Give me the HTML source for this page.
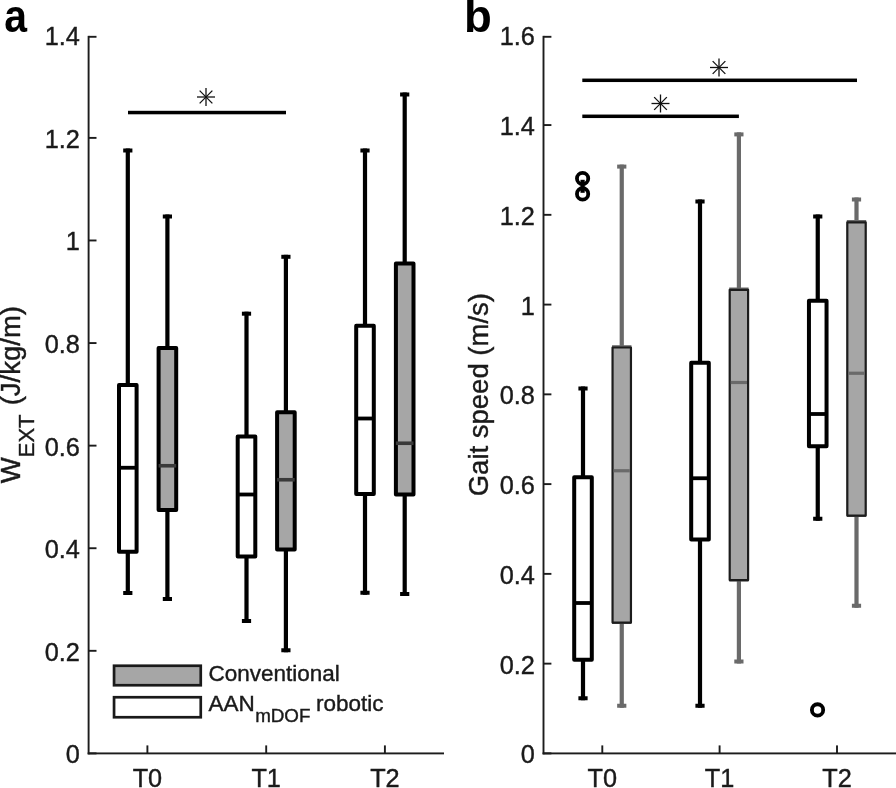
<!DOCTYPE html>
<html><head><meta charset="utf-8"><title>Figure</title>
<style>
html,body{margin:0;padding:0;background:#fff;}
body{width:896px;height:788px;overflow:hidden;}
svg{display:block;font-family:"Liberation Sans", sans-serif;fill:#1a1a1a;}
svg text{fill:#1a1a1a;stroke:#1a1a1a;stroke-width:0.4px;}
svg{will-change:transform;}
</style></head>
<body>
<svg width="896" height="788" viewBox="0 0 896 788">
<rect x="0" y="0" width="896" height="788" fill="#fff"/>
<rect x="87.64999999999999" y="35.85" width="1.9" height="718.5" fill="#1c1c1c"/>
<rect x="87.64999999999999" y="752.4499999999999" width="356.34999999999997" height="1.9" fill="#1c1c1c"/>
<rect x="88.6" y="752.45" width="7.9" height="1.9" fill="#1c1c1c"/>
<text x="79.8" y="763.40" font-size="25.3" text-anchor="end" font-weight="normal" >0</text>
<rect x="88.6" y="649.86" width="7.9" height="1.9" fill="#1c1c1c"/>
<text x="79.8" y="660.81" font-size="25.3" text-anchor="end" font-weight="normal" >0.2</text>
<rect x="88.6" y="547.28" width="7.9" height="1.9" fill="#1c1c1c"/>
<text x="79.8" y="558.23" font-size="25.3" text-anchor="end" font-weight="normal" >0.4</text>
<rect x="88.6" y="444.69" width="7.9" height="1.9" fill="#1c1c1c"/>
<text x="79.8" y="455.64" font-size="25.3" text-anchor="end" font-weight="normal" >0.6</text>
<rect x="88.6" y="342.11" width="7.9" height="1.9" fill="#1c1c1c"/>
<text x="79.8" y="353.06" font-size="25.3" text-anchor="end" font-weight="normal" >0.8</text>
<rect x="88.6" y="239.52" width="7.9" height="1.9" fill="#1c1c1c"/>
<text x="79.8" y="250.47" font-size="25.3" text-anchor="end" font-weight="normal" >1</text>
<rect x="88.6" y="136.94" width="7.9" height="1.9" fill="#1c1c1c"/>
<text x="79.8" y="147.89" font-size="25.3" text-anchor="end" font-weight="normal" >1.2</text>
<rect x="88.6" y="35.85" width="7.9" height="1.9" fill="#1c1c1c"/>
<text x="79.8" y="45.30" font-size="25.3" text-anchor="end" font-weight="normal" >1.4</text>
<rect x="146.45000000000002" y="745.4" width="1.9" height="8" fill="#1c1c1c"/>
<text x="147.4" y="786.5" font-size="25.3" text-anchor="middle" font-weight="normal" >T0</text>
<rect x="265.25" y="745.4" width="1.9" height="8" fill="#1c1c1c"/>
<text x="266.2" y="786.5" font-size="25.3" text-anchor="middle" font-weight="normal" >T1</text>
<rect x="383.95" y="745.4" width="1.9" height="8" fill="#1c1c1c"/>
<text x="384.9" y="786.5" font-size="25.3" text-anchor="middle" font-weight="normal" >T2</text>
<rect x="125.70" y="148.50" width="4.2" height="446.50" fill="#000"/>
<rect x="123.20" y="148.50" width="9.2" height="4.0" fill="#000"/>
<rect x="123.20" y="591.00" width="9.2" height="4.0" fill="#000"/>
<rect x="119.00" y="385.10" width="17.60" height="166.65" fill="#fff" stroke="#000" stroke-width="4.0" stroke-linejoin="round"/>
<rect x="119.00" y="465.85" width="17.60" height="3.8" fill="#000"/>
<rect x="165.30" y="214.50" width="4.2" height="386.50" fill="#000"/>
<rect x="162.80" y="214.50" width="9.2" height="4.0" fill="#000"/>
<rect x="162.80" y="597.00" width="9.2" height="4.0" fill="#000"/>
<rect x="158.60" y="348.00" width="17.60" height="162.00" fill="#a6a6a6" stroke="#000" stroke-width="4.0" stroke-linejoin="round"/>
<rect x="158.60" y="463.95" width="17.60" height="3.6" fill="#3a3a3a"/>
<rect x="244.40" y="311.70" width="4.2" height="311.30" fill="#000"/>
<rect x="241.90" y="311.70" width="9.2" height="4.0" fill="#000"/>
<rect x="241.90" y="619.00" width="9.2" height="4.0" fill="#000"/>
<rect x="237.70" y="436.50" width="17.60" height="120.00" fill="#fff" stroke="#000" stroke-width="4.0" stroke-linejoin="round"/>
<rect x="237.70" y="492.60" width="17.60" height="3.8" fill="#000"/>
<rect x="283.80" y="254.80" width="4.2" height="397.45" fill="#000"/>
<rect x="281.30" y="254.80" width="9.2" height="4.0" fill="#000"/>
<rect x="281.30" y="648.25" width="9.2" height="4.0" fill="#000"/>
<rect x="277.10" y="412.25" width="17.60" height="137.25" fill="#a6a6a6" stroke="#000" stroke-width="4.0" stroke-linejoin="round"/>
<rect x="277.10" y="477.95" width="17.60" height="3.6" fill="#3a3a3a"/>
<rect x="362.90" y="148.50" width="4.2" height="446.25" fill="#000"/>
<rect x="360.40" y="148.50" width="9.2" height="4.0" fill="#000"/>
<rect x="360.40" y="590.75" width="9.2" height="4.0" fill="#000"/>
<rect x="356.20" y="325.75" width="17.60" height="168.25" fill="#fff" stroke="#000" stroke-width="4.0" stroke-linejoin="round"/>
<rect x="356.20" y="416.60" width="17.60" height="3.8" fill="#000"/>
<rect x="402.60" y="92.50" width="4.2" height="503.50" fill="#000"/>
<rect x="400.10" y="92.50" width="9.2" height="4.0" fill="#000"/>
<rect x="400.10" y="592.00" width="9.2" height="4.0" fill="#000"/>
<rect x="395.90" y="263.50" width="17.60" height="231.00" fill="#a6a6a6" stroke="#000" stroke-width="4.0" stroke-linejoin="round"/>
<rect x="395.90" y="441.45" width="17.60" height="3.6" fill="#3a3a3a"/>
<rect x="128" y="110.8" width="158" height="3.5" fill="#000"/>
<line x1="197.00" y1="97.00" x2="215.00" y2="97.00" stroke="#111" stroke-width="1.3"/>
<line x1="199.64" y1="90.64" x2="212.36" y2="103.36" stroke="#111" stroke-width="1.3"/>
<line x1="206.00" y1="88.00" x2="206.00" y2="106.00" stroke="#111" stroke-width="1.3"/>
<line x1="212.36" y1="90.64" x2="199.64" y2="103.36" stroke="#111" stroke-width="1.3"/>
<rect x="114.05" y="665.75" width="86.7" height="19.5" fill="#a6a6a6" stroke="#1a1a1a" stroke-width="2.7"/>
<rect x="114.05" y="697.25" width="86.7" height="20.0" fill="#fff" stroke="#1a1a1a" stroke-width="2.7"/>
<text x="208.5" y="681.2" font-size="22.5" text-anchor="start" font-weight="normal" >Conventional</text>
<text x="208.5" y="711" font-size="22.5">AAN<tspan font-size="18.8" dy="11.2" dx="0.4">mDOF</tspan><tspan dy="-11.2" dx="-0.7"> robotic</tspan></text>
<text transform="translate(20.3,483.2) rotate(-90)" font-size="27.5">W<tspan font-size="22" dy="13.4">EXT</tspan><tspan dy="-13.4" dx="1.5"> (J/kg/m)</tspan></text>
<text transform="translate(4.3,31.8) scale(0.9,1)" font-size="45.5" font-weight="bold" style="fill:#000;stroke:none">a</text>
<text x="464.1" y="31.5" font-size="45.5" font-weight="bold" style="fill:#000;stroke:none">b</text>
<rect x="542.55" y="35.85" width="1.9" height="718.5" fill="#1c1c1c"/>
<rect x="542.55" y="752.4499999999999" width="353.45" height="1.9" fill="#1c1c1c"/>
<rect x="543.5" y="752.45" width="7.9" height="1.9" fill="#1c1c1c"/>
<text x="534.9" y="763.40" font-size="25.3" text-anchor="end" font-weight="normal" >0</text>
<rect x="543.5" y="662.69" width="7.9" height="1.9" fill="#1c1c1c"/>
<text x="534.9" y="673.64" font-size="25.3" text-anchor="end" font-weight="normal" >0.2</text>
<rect x="543.5" y="572.92" width="7.9" height="1.9" fill="#1c1c1c"/>
<text x="534.9" y="583.88" font-size="25.3" text-anchor="end" font-weight="normal" >0.4</text>
<rect x="543.5" y="483.16" width="7.9" height="1.9" fill="#1c1c1c"/>
<text x="534.9" y="494.11" font-size="25.3" text-anchor="end" font-weight="normal" >0.6</text>
<rect x="543.5" y="393.40" width="7.9" height="1.9" fill="#1c1c1c"/>
<text x="534.9" y="404.35" font-size="25.3" text-anchor="end" font-weight="normal" >0.8</text>
<rect x="543.5" y="303.64" width="7.9" height="1.9" fill="#1c1c1c"/>
<text x="534.9" y="314.59" font-size="25.3" text-anchor="end" font-weight="normal" >1</text>
<rect x="543.5" y="213.88" width="7.9" height="1.9" fill="#1c1c1c"/>
<text x="534.9" y="224.83" font-size="25.3" text-anchor="end" font-weight="normal" >1.2</text>
<rect x="543.5" y="124.11" width="7.9" height="1.9" fill="#1c1c1c"/>
<text x="534.9" y="135.06" font-size="25.3" text-anchor="end" font-weight="normal" >1.4</text>
<rect x="543.5" y="35.85" width="7.9" height="1.9" fill="#1c1c1c"/>
<text x="534.9" y="45.30" font-size="25.3" text-anchor="end" font-weight="normal" >1.6</text>
<rect x="601.3499999999999" y="745.4" width="1.9" height="8" fill="#1c1c1c"/>
<text x="602.3" y="786.5" font-size="25.3" text-anchor="middle" font-weight="normal" >T0</text>
<rect x="718.65" y="745.4" width="1.9" height="8" fill="#1c1c1c"/>
<text x="719.6" y="786.5" font-size="25.3" text-anchor="middle" font-weight="normal" >T1</text>
<rect x="836.05" y="745.4" width="1.9" height="8" fill="#1c1c1c"/>
<text x="837.0" y="786.5" font-size="25.3" text-anchor="middle" font-weight="normal" >T2</text>
<rect x="580.90" y="386.50" width="4.2" height="313.75" fill="#000"/>
<rect x="578.40" y="386.50" width="9.2" height="4.0" fill="#000"/>
<rect x="578.40" y="696.25" width="9.2" height="4.0" fill="#000"/>
<rect x="574.20" y="477.25" width="17.60" height="182.50" fill="#fff" stroke="#000" stroke-width="4.0" stroke-linejoin="round"/>
<rect x="574.20" y="601.10" width="17.60" height="3.8" fill="#000"/>
<rect x="619.65" y="164.60" width="4.2" height="543.15" fill="#6a6a6a"/>
<rect x="617.15" y="164.60" width="9.2" height="4.0" fill="#6a6a6a"/>
<rect x="617.15" y="703.75" width="9.2" height="4.0" fill="#6a6a6a"/>
<rect x="612.05" y="345.20" width="19.40" height="278.80" fill="#6a6a6a"/>
<rect x="612.55" y="347.50" width="18.40" height="275.10" fill="#a6a6a6" stroke="#1c1c1c" stroke-width="2.2" stroke-linejoin="round"/>
<rect x="613.65" y="469.15" width="16.20" height="3.2" fill="#6a6a6a"/>
<rect x="697.90" y="199.50" width="4.2" height="508.25" fill="#000"/>
<rect x="695.40" y="199.50" width="9.2" height="4.0" fill="#000"/>
<rect x="695.40" y="703.75" width="9.2" height="4.0" fill="#000"/>
<rect x="691.20" y="362.75" width="17.60" height="176.75" fill="#fff" stroke="#000" stroke-width="4.0" stroke-linejoin="round"/>
<rect x="691.20" y="476.35" width="17.60" height="3.8" fill="#000"/>
<rect x="736.80" y="132.40" width="4.2" height="531.10" fill="#6a6a6a"/>
<rect x="734.30" y="132.40" width="9.2" height="4.0" fill="#6a6a6a"/>
<rect x="734.30" y="659.50" width="9.2" height="4.0" fill="#6a6a6a"/>
<rect x="729.20" y="287.50" width="19.40" height="294.00" fill="#6a6a6a"/>
<rect x="729.70" y="289.80" width="18.40" height="290.30" fill="#a6a6a6" stroke="#1c1c1c" stroke-width="2.2" stroke-linejoin="round"/>
<rect x="730.80" y="380.90" width="16.20" height="3.2" fill="#6a6a6a"/>
<rect x="815.65" y="214.50" width="4.2" height="306.25" fill="#000"/>
<rect x="813.15" y="214.50" width="9.2" height="4.0" fill="#000"/>
<rect x="813.15" y="516.75" width="9.2" height="4.0" fill="#000"/>
<rect x="808.95" y="300.75" width="17.60" height="145.50" fill="#fff" stroke="#000" stroke-width="4.0" stroke-linejoin="round"/>
<rect x="808.95" y="412.10" width="17.60" height="3.8" fill="#000"/>
<rect x="854.40" y="197.50" width="4.2" height="410.25" fill="#6a6a6a"/>
<rect x="851.90" y="197.50" width="9.2" height="4.0" fill="#6a6a6a"/>
<rect x="851.90" y="603.75" width="9.2" height="4.0" fill="#6a6a6a"/>
<rect x="846.80" y="220.00" width="19.40" height="297.00" fill="#6a6a6a"/>
<rect x="847.30" y="222.30" width="18.40" height="293.30" fill="#a6a6a6" stroke="#1c1c1c" stroke-width="2.2" stroke-linejoin="round"/>
<rect x="848.40" y="371.65" width="16.20" height="3.2" fill="#6a6a6a"/>
<circle cx="582.6" cy="178.5" r="5.65" fill="#fff" stroke="#000" stroke-width="3.8"/>
<circle cx="582.6" cy="193.9" r="5.65" fill="#fff" stroke="#000" stroke-width="3.8"/>
<circle cx="817.55" cy="709.9" r="5.65" fill="#fff" stroke="#000" stroke-width="3.8"/>
<rect x="580.5" y="179.8" width="4.2" height="13" fill="#000"/>
<rect x="582.3" y="78.55" width="274.7" height="3.5" fill="#000"/>
<rect x="582.3" y="114.55" width="156.6" height="3.5" fill="#000"/>
<line x1="710.00" y1="67.50" x2="728.00" y2="67.50" stroke="#111" stroke-width="1.3"/>
<line x1="712.64" y1="61.14" x2="725.36" y2="73.86" stroke="#111" stroke-width="1.3"/>
<line x1="719.00" y1="58.50" x2="719.00" y2="76.50" stroke="#111" stroke-width="1.3"/>
<line x1="725.36" y1="61.14" x2="712.64" y2="73.86" stroke="#111" stroke-width="1.3"/>
<line x1="651.50" y1="103.50" x2="669.50" y2="103.50" stroke="#111" stroke-width="1.3"/>
<line x1="654.14" y1="97.14" x2="666.86" y2="109.86" stroke="#111" stroke-width="1.3"/>
<line x1="660.50" y1="94.50" x2="660.50" y2="112.50" stroke="#111" stroke-width="1.3"/>
<line x1="666.86" y1="97.14" x2="654.14" y2="109.86" stroke="#111" stroke-width="1.3"/>
<text transform="translate(488.0,496.3) rotate(-90)" font-size="27.5">Gait speed (m/s)</text>
</svg>
</body></html>
